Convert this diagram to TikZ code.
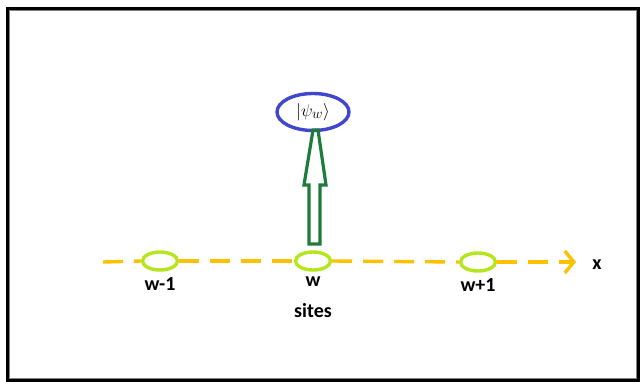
\documentclass[tikz,border=0pt]{standalone}
\usepackage{fontspec}
\setmainfont{Carlito}
\usetikzlibrary{arrows.meta,shapes.geometric}
\definecolor{axisgold}{HTML}{FFC000}
\definecolor{sitegreen}{HTML}{B5E61D}
\definecolor{psiblue}{HTML}{3F48CC}
\definecolor{arrowgreen}{HTML}{1E7B3A}
\begin{document}
\begin{tikzpicture}[x=1pt,y=-1pt,
  site/.style={draw=sitegreen,line width=3.4pt,ellipse,minimum width=35pt,minimum height=18pt,inner sep=0pt},
  axis/.style={draw=axisgold,line width=3.4pt,dash pattern=on 20pt off 11pt},
  lbl/.style={font=\bfseries\fontsize{20}{22}\selectfont,inner sep=0pt}]
\useasboundingbox (0,0) rectangle (640,382);
\draw[black,line width=3pt] (7.5,8.5) rectangle (638.5,380.5);
\draw[gray,line width=0.8pt] (9.5,10.5) rectangle (636.5,378.5);
\coordinate (start) at (103,262);
\coordinate (end) at (576,262);
\node[site] (c1) at (160,261) {};
\node[site] (c2) at (313,261) {};
\node[site] (c3) at (478,262) {};
\draw[axis] (start) -- (c1.west);
\draw[axis] (c1.east) -- (c2.west);
\draw[axis] (c2.east) -- (c3.west);
\draw[axis,-{Straight Barb[length=9pt,width=22pt,line width=3.4pt]}] (c3.east) -- (end);
\node[lbl] (lx) at (597,265) {x};
\node[lbl] (l1) at (160,284) {w-1};
\node[lbl] (l2) at (313,282) {w};
\node[lbl] (l3) at (478,285) {w+1};
\node[lbl] (ls) at (313,311) {sites};
\node[draw=psiblue,line width=3.4pt,ellipse,minimum width=72pt,minimum height=37pt,inner sep=0pt,font=\fontsize{19}{21}\selectfont] (psi) at (313,112) {$|\psi_w\rangle$};
\draw[arrowgreen,line width=3.2pt,line join=miter]
  (309,244) -- (309,185) -- (304,185) -- (313,130) -- (318,130) -- (326,185) -- (320,185) -- (320,244) -- cycle;
\end{tikzpicture}
\end{document}
